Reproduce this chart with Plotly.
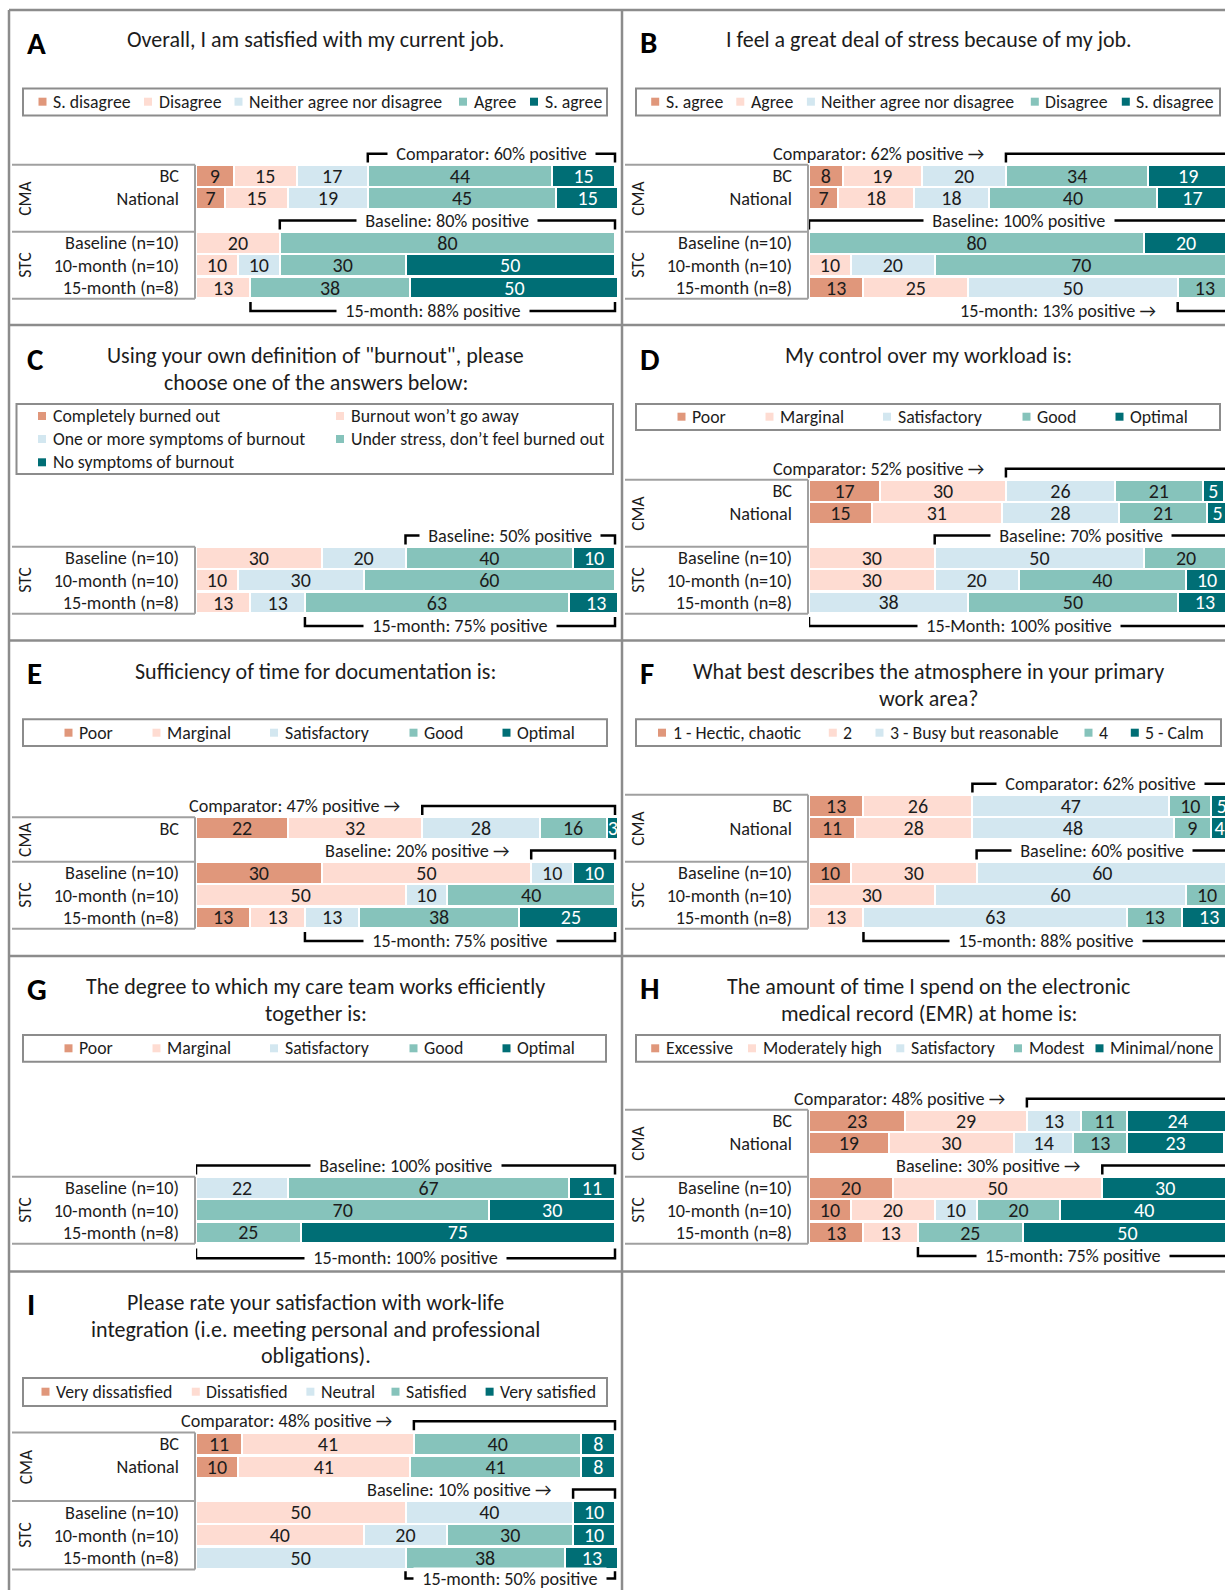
import plotly.graph_objects as go

# ---------------- survey results (percent of respondents) ----------------
CMA_ROWS = ["BC", "National"]
STC_ROWS = ["Baseline (n=10)", "10-month (n=10)", "15-month (n=8)"]

A_levels = ["S. disagree", "Disagree", "Neither agree nor disagree", "Agree", "S. agree"]
A_cma = [[9, 15, 17, 44, 15], [7, 15, 19, 45, 15]]
A_stc = [[0, 20, 0, 80, 0], [0, 10, 10, 30, 50], [0, 13, 0, 38, 50]]

B_levels = ["S. agree", "Agree", "Neither agree nor disagree", "Disagree", "S. disagree"]
B_cma = [[8, 19, 20, 34, 19], [7, 18, 18, 40, 17]]
B_stc = [[0, 0, 0, 80, 20], [0, 10, 20, 70, 0], [13, 25, 50, 13, 0]]

C_levels = ["Completely burned out", "Burnout won\u2019t go away", "One or more symptoms of burnout",
            "Under stress, don\u2019t feel burned out", "No symptoms of burnout"]
C_stc = [[0, 30, 20, 40, 10], [0, 10, 30, 60, 0], [0, 13, 13, 63, 13]]

D_levels = ["Poor", "Marginal", "Satisfactory", "Good", "Optimal"]
D_cma = [[17, 30, 26, 21, 5], [15, 31, 28, 21, 5]]
D_stc = [[0, 30, 50, 20, 0], [0, 30, 20, 40, 10], [0, 0, 38, 50, 13]]

E_levels = ["Poor", "Marginal", "Satisfactory", "Good", "Optimal"]
E_cma = [[22, 32, 28, 16, 3]]
E_stc = [[30, 50, 10, 0, 10], [0, 50, 10, 40, 0], [13, 13, 13, 38, 25]]

F_levels = ["1 - Hectic, chaotic", "2", "3 - Busy but reasonable", "4", "5 - Calm"]
F_cma = [[13, 26, 47, 10, 5], [11, 28, 48, 9, 4]]
F_stc = [[10, 30, 60, 0, 0], [0, 30, 60, 10, 0], [0, 13, 63, 13, 13]]

G_levels = ["Poor", "Marginal", "Satisfactory", "Good", "Optimal"]
G_stc = [[0, 0, 22, 67, 11], [0, 0, 0, 70, 30], [0, 0, 0, 25, 75]]

H_levels = ["Excessive", "Moderately high", "Satisfactory", "Modest", "Minimal/none"]
H_cma = [[23, 29, 13, 11, 24], [19, 30, 14, 13, 23]]
H_stc = [[20, 50, 0, 0, 30], [10, 20, 10, 20, 40], [13, 13, 0, 25, 50]]

I_levels = ["Very dissatisfied", "Dissatisfied", "Neutral", "Satisfied", "Very satisfied"]
I_cma = [[11, 41, 0, 40, 8], [10, 41, 0, 41, 8]]
I_stc = [[0, 50, 40, 0, 10], [0, 40, 20, 30, 10], [0, 0, 50, 38, 13]]

# bracket notes: (row, side, text, style)
A_notes = [("BC", "top", "Comparator: 60% positive", "in"),
           ("Baseline (n=10)", "top", "Baseline: 80% positive", "in"),
           ("15-month (n=8)", "bottom", "15-month: 88% positive", "in")]
B_notes = [("BC", "top", "Comparator: 62% positive", "arrow"),
           ("Baseline (n=10)", "top", "Baseline: 100% positive", "in"),
           ("15-month (n=8)", "bottom", "15-month: 13% positive", "arrow")]
C_notes = [("Baseline (n=10)", "top", "Baseline: 50% positive", "in"),
           ("15-month (n=8)", "bottom", "15-month: 75% positive", "in")]
D_notes = [("BC", "top", "Comparator: 52% positive", "arrow"),
           ("Baseline (n=10)", "top", "Baseline: 70% positive", "in"),
           ("15-month (n=8)", "bottom", "15-Month: 100% positive", "in")]
E_notes = [("BC", "top", "Comparator: 47% positive", "arrow"),
           ("Baseline (n=10)", "top", "Baseline: 20% positive", "arrow"),
           ("15-month (n=8)", "bottom", "15-month: 75% positive", "in")]
F_notes = [("BC", "top", "Comparator: 62% positive", "in"),
           ("Baseline (n=10)", "top", "Baseline: 60% positive", "in"),
           ("15-month (n=8)", "bottom", "15-month: 88% positive", "in")]
G_notes = [("Baseline (n=10)", "top", "Baseline: 100% positive", "in"),
           ("15-month (n=8)", "bottom", "15-month: 100% positive", "in")]
H_notes = [("BC", "top", "Comparator: 48% positive", "arrow"),
           ("Baseline (n=10)", "top", "Baseline: 30% positive", "arrow"),
           ("15-month (n=8)", "bottom", "15-month: 75% positive", "in")]
I_notes = [("BC", "top", "Comparator: 48% positive", "arrow"),
           ("Baseline (n=10)", "top", "Baseline: 10% positive", "arrow"),
           ("15-month (n=8)", "bottom", "15-month: 50% positive", "in")]

# ---------------- styling ----------------
W, H = 1225, 1590
FONT = "Carlito, Lato, 'Noto Sans', sans-serif"
INK = "#1c1c1c"
FRAME = "#8c8c8c"
TABLE = "#a0a0a0"
SEG_COLORS = ["#E0977B", "#FEDCD2", "#D3E7F0", "#86C3BB", "#006E75"]
SEG_TEXT = [INK, INK, INK, INK, "#FFFFFF"]
COL_X = [0, 613]
BAR_X0, BAR_X100 = 196, 615
PITCH = 22.3
PAD = "\u00a0\u00a0"

SZ_TITLE = 22
SZ_ROW = 18.2
SZ_LEGEND = 17.8
SZ_NOTE = 18.2
SZ_BAR = 20
SZ_GROUP = 17.5
SZ_LETTER = 31

EVEN5 = [64.5, 152.5, 270, 409.5, 502.5]

PANELS = [
    dict(letter="A", col=0, top=10, title=["Overall, I am satisfied with my current job."], title_y=[30],
         letter_y=33, levels=A_levels, cma_rows=CMA_ROWS, cma=A_cma, stc=A_stc, k=3, notes=A_notes,
         box=(23, 607, 78.5, 105.5), items=[(x, 91.7) for x in [38.5, 144, 234.5, 459, 530]], bottom=277.5),
    dict(letter="B", col=1, top=10, title=["I feel a great deal of stress because of my job."], title_y=[30],
         letter_y=32, levels=B_levels, cma_rows=CMA_ROWS, cma=B_cma, stc=B_stc, k=3, notes=B_notes,
         box=(23, 607, 78.5, 105.5), items=[(x, 91.7) for x in [38.2, 123.3, 193.9, 417.8, 508.8]], bottom=277.5),
    dict(letter="C", col=0, top=325,
         title=["Using your own definition of \"burnout\", please", "choose one of the answers below:"],
         title_y=[30, 57.3], letter_y=34, levels=C_levels, cma_rows=[], cma=[], stc=C_stc, k=3, notes=C_notes,
         box=(16.5, 613, 79, 149), items=[(38, 91), (336, 91), (38, 114), (336, 114), (38, 137.3)], bottom=277.5),
    dict(letter="D", col=1, top=325, title=["My control over my workload is:"], title_y=[30],
         letter_y=34, levels=D_levels, cma_rows=CMA_ROWS, cma=D_cma, stc=D_stc, k=2, notes=D_notes,
         box=(23, 607, 79, 105), items=[(x, 91.7) for x in EVEN5], bottom=277.5),
    dict(letter="E", col=0, top=640, title=["Sufficiency of time for documentation is:"], title_y=[31.7],
         letter_y=32.5, levels=E_levels, cma_rows=["BC"], cma=E_cma, stc=E_stc, k=2, notes=E_notes,
         box=(23, 607, 79.3, 106), items=[(x, 92.7) for x in EVEN5], bottom=277.5),
    dict(letter="F", col=1, top=640,
         title=["What best describes the atmosphere in your primary", "work area?"], title_y=[31.7, 58.3],
         letter_y=32.5, levels=F_levels, cma_rows=CMA_ROWS, cma=F_cma, stc=F_stc, k=2, notes=F_notes,
         box=(23, 608, 79.3, 106), items=[(x, 92.7) for x in [45, 215.8, 262.5, 471.5, 517.8]], bottom=277.5),
    dict(letter="G", col=0, top=955,
         title=["The degree to which my care team works efficiently", "together is:"], title_y=[31.7, 58.3],
         letter_y=34, levels=G_levels, cma_rows=[], cma=[], stc=G_stc, k=2, notes=G_notes,
         box=(23, 606, 80, 106.7), items=[(x, 93.3) for x in EVEN5], bottom=277.5, low_note=(1.15, 0.72)),
    dict(letter="H", col=1, top=955,
         title=["The amount of time I spend on the electronic", "medical record (EMR) at home is:"],
         title_y=[31.7, 58.3], letter_y=32.5, levels=H_levels, cma_rows=CMA_ROWS, cma=H_cma, stc=H_stc, k=2,
         notes=H_notes, box=(23, 607, 80, 106.7),
         items=[(x, 93.3) for x in [38.2, 135, 283.3, 401, 482.5]], bottom=277.5),
    dict(letter="I", col=0, top=1270,
         title=["Please rate your satisfaction with work-life",
                "integration (i.e. meeting personal and professional", "obligations)."],
         title_y=[32.3, 59, 85.7], letter_y=34, levels=I_levels, cma_rows=CMA_ROWS, cma=I_cma, stc=I_stc, k=3,
         notes=I_notes, box=(23, 607, 108, 136),
         items=[(x, 121.7) for x in [41.5, 191.8, 306.4, 391.5, 485.6]], bottom=288, pitch=22.8,
         low_note=(0.9, 0.58)),
]


def X(p):
    return p / W


def Y(p):
    return 1 - p / H


fig = go.Figure()
shapes, annos, axes = [], [], {}


def text(x, y, s, size, **kw):
    d = dict(x=X(x), y=Y(y), xref="paper", yref="paper", text=s, showarrow=False,
             font=dict(family=FONT, size=size, color=INK), xanchor="center", yanchor="middle")
    d.update(kw)
    annos.append(d)


def hline(x0, x1, y, color, width):
    shapes.append(dict(type="line", xref="paper", yref="paper", x0=X(x0), x1=X(x1), y0=Y(y), y1=Y(y),
                       line=dict(color=color, width=width)))


def vline(x, y0, y1, color, width):
    shapes.append(dict(type="line", xref="paper", yref="paper", x0=X(x), x1=X(x), y0=Y(y0), y1=Y(y1),
                       line=dict(color=color, width=width)))


for n, p in enumerate(PANELS, start=1):
    sfx = "" if n == 1 else str(n)
    xr, yr = "x" + sfx, "y" + sfx
    ox, oy = COL_X[p["col"]], p["top"]
    pitch = p.get("pitch", PITCH)

    rows = list(p["cma_rows"]) + ([None] if p["cma_rows"] else []) + STC_ROWS
    nrow = len(rows)
    bar_rows = [r for r in rows if r is not None]
    pos = {r: i for i, r in enumerate(rows) if r is not None}
    values = list(p["cma"]) + list(p["stc"])
    base_px = oy + p["bottom"]

    def cy(v, base_px=base_px, nrow=nrow, pitch=pitch):
        return base_px - (nrow - 1 - v) * pitch

    # axes: x is percent, y is row slot (one spare slot above and below for notes)
    y_lo = nrow - 1 + min(1.5, (H - base_px) / pitch)
    y_hi = -1.5
    x0, x100 = ox + BAR_X0, ox + BAR_X100
    x1 = min(x100 + 2, W)
    axes["xaxis" + sfx] = dict(domain=[X(x0), X(x1)], range=[0, 100 * (x1 - x0) / (x100 - x0)],
                               visible=False, anchor=yr, fixedrange=True)
    axes["yaxis" + sfx] = dict(domain=[max(0, Y(cy(y_lo))), min(1, Y(cy(y_hi)))], range=[y_lo, y_hi],
                               anchor=xr, tickmode="array", tickvals=[pos[r] for r in bar_rows],
                               ticktext=bar_rows, ticks="", showgrid=False, zeroline=False, showline=False,
                               ticklabelstandoff=16, automargin=False, fixedrange=True,
                               tickfont=dict(family=FONT, size=SZ_ROW, color=INK))

    # stacked bars
    for j, level in enumerate(p["levels"]):
        col = [row[j] for row in values]
        fig.add_trace(go.Bar(
            x=[v if v else None for v in col], y=[pos[r] for r in bar_rows], orientation="h",
            xaxis=xr, yaxis=yr, width=0.98, name=level, showlegend=False, hoverinfo="skip",
            marker=dict(color=SEG_COLORS[j], line=dict(color="white", width=2)),
            text=[str(v) if v else "" for v in col], textposition="inside", insidetextanchor="middle",
            textangle=0, constraintext="none", cliponaxis=True,
            textfont=dict(family=FONT, size=SZ_BAR, color=SEG_TEXT[j])))

    # positive-share brackets
    low_line, low_tick = p.get("low_note", (1.05, 0.65))
    for row_name, side, label, style in p["notes"]:
        i = pos[row_name]
        start = sum(values[bar_rows.index(row_name)][:p["k"]])
        if side == "top":
            yl, yt = i - 1.0, i - 0.6
        else:
            yl, yt = i + low_line, i + low_tick
        shapes.append(dict(type="path", xref=xr, yref=yr,
                           path=f"M {start},{yt} L {start},{yl} L 100,{yl} L 100,{yt}",
                           line=dict(color="black", width=2.5)))
        font = dict(family=FONT, size=SZ_NOTE, color=INK)
        if style == "in":
            annos.append(dict(xref=xr, yref=yr, x=(start + 100) / 2, y=yl, text=PAD + label + PAD,
                              bgcolor="white", borderpad=0, showarrow=False, font=font,
                              xanchor="center", yanchor="middle"))
        else:
            annos.append(dict(xref=xr, yref=yr, x=start, y=yl, text=label + " \u2192", xshift=-20,
                              showarrow=False, font=font, xanchor="right", yanchor="middle"))

    # row-label table and group labels
    tab_top = cy(0) - pitch / 2
    tab_bot = cy(nrow - 1) + pitch / 2
    hline(ox + 12, ox + 195, tab_top, TABLE, 2)
    hline(ox + 12, ox + 195, tab_bot, TABLE, 2)
    vline(ox + 195, tab_top, tab_bot, TABLE, 2)
    if p["cma_rows"]:
        sep = cy(len(p["cma_rows"])) + pitch / 2
        hline(ox + 12, ox + 195, sep, TABLE, 2)
        text(ox + 25.5, (tab_top + sep) / 2, "CMA", SZ_GROUP, textangle=-90)
        text(ox + 25.5, (sep + tab_bot) / 2, "STC", SZ_GROUP, textangle=-90)
    else:
        text(ox + 25.5, (tab_top + tab_bot) / 2, "STC", SZ_GROUP, textangle=-90)

    # letter and question
    text(ox + 25, oy + p["letter_y"], "<b>" + p["letter"] + "</b>", SZ_LETTER, xanchor="left",
         font=dict(family=FONT, size=SZ_LETTER, color="black"))
    for line, ty in zip(p["title"], p["title_y"]):
        text(ox + 315.5, oy + ty, line, SZ_TITLE)

    # legend box
    bx0, bx1, by0, by1 = p["box"]
    shapes.append(dict(type="rect", xref="paper", yref="paper", x0=X(ox + bx0), x1=X(ox + bx1),
                       y0=Y(oy + by1), y1=Y(oy + by0), line=dict(color=FRAME, width=2),
                       fillcolor="rgba(0,0,0,0)"))
    for j, level in enumerate(p["levels"]):
        sx, sy = p["items"][j]
        shapes.append(dict(type="rect", xref="paper", yref="paper", x0=X(ox + sx), x1=X(ox + sx + 8),
                           y0=Y(oy + sy + 4), y1=Y(oy + sy - 4), fillcolor=SEG_COLORS[j],
                           line=dict(width=0)))
        text(ox + sx + 12.5, oy + sy, level, SZ_LEGEND, xanchor="left")

# panel frame
for yy in [10, 325, 640.5, 956, 1271.5]:
    hline(9, W, yy, FRAME, 2.5)
vline(9, 10, H, FRAME, 2.5)
vline(622, 10, H, FRAME, 2.5)

fig.update_layout(width=W, height=H, margin=dict(l=0, r=0, t=0, b=0), template="none",
                  paper_bgcolor="white", plot_bgcolor="rgba(0,0,0,0)", barmode="stack",
                  showlegend=False, font=dict(family=FONT, color=INK),
                  shapes=shapes, annotations=annos, **axes)

fig.write_html("out.html")
